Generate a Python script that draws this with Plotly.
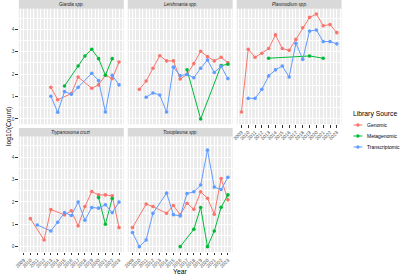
import plotly.graph_objects as go

years = list(range(2009, 2024))
year_labels = [str(y) for y in years]
N = None

# ---- data: log10(Count) per year 2009..2023 (None = no record) ----
giardia_genomic        = [N, N, N, N, 1.41, 0.86, N, 1.13, 1.87, N, 1.37, 1.52, 1.95, 1.80, 2.54]
giardia_metagenomic    = [N, N, N, N, N, N, 1.47, N, 2.36, 2.81, 3.11, 2.69, 1.95, 2.69, N]
giardia_transcriptomic = [N, N, N, N, 1.01, 0.30, 1.22, 1.10, 1.41, N, 2.04, 1.71, 0.31, 1.95, 1.52]

leish_genomic        = [N, 1.32, 1.69, 2.26, 2.82, 2.59, 2.59, 1.78, 1.99, 2.47, 3.02, 2.78, 2.59, 2.75, 2.51]
leish_metagenomic    = [N, N, N, N, N, N, N, N, 2.19, N, 0.0, N, N, 2.38, 2.44]
leish_transcriptomic = [N, N, 0.97, 1.16, 1.07, 0.31, 2.31, 1.93, 1.99, 1.84, 2.26, 2.63, 2.07, 2.35, 1.80]

plasmo_genomic        = [0.31, 3.11, 2.75, 2.93, 3.14, 3.75, 3.14, 3.06, 3.55, 4.07, 4.53, 4.68, 4.16, 4.21, 3.85]
plasmo_metagenomic    = [N, N, N, N, 2.71, N, N, N, N, N, 2.81, N, 2.71, N, N]
plasmo_transcriptomic = [N, 0.92, 0.92, 1.32, 1.92, 2.19, 2.36, 1.87, 3.38, 2.66, 3.92, 3.97, 3.45, 3.45, 3.35]

trypano_genomic        = [N, 1.25, N, 0.30, 1.66, N, 1.42, 1.60, 0.93, 1.79, 2.46, 2.31, 2.31, 2.27, 0.85]
trypano_metagenomic    = [N, N, N, N, N, N, N, N, N, N, N, 2.19, 1.00, 2.15, N]
trypano_transcriptomic = [N, N, 0.97, N, 0.70, 1.09, 1.52, 1.39, 1.99, 1.18, 1.75, 1.72, 1.87, 1.52, 1.99]

toxo_genomic        = [0.85, N, 1.90, 1.79, N, 1.49, 1.84, 1.42, 1.94, 1.67, 2.45, 2.16, 1.45, 3.04, 2.09]
toxo_metagenomic    = [N, N, N, N, N, N, N, 0.0, N, 0.78, 1.75, 0.0, 0.70, 1.76, 2.31]
toxo_transcriptomic = [0.63, 0.0, 0.30, 1.49, N, 2.39, 1.43, 1.37, 2.37, 2.45, 2.75, 4.31, 2.66, 2.55, 3.10]

panel_titles = ["Giardia spp.", "Leishmania spp.", "Plasmodium spp.", "Trypanosoma cruzi", "Toxoplasma spp."]
series_names = ["Genomic", "Metagenomic", "Transcriptomic"]
series_colors = ["#F8766D", "#00BA38", "#619CFF"]
legend_title = "Library Source"

panel_data = [
    [giardia_genomic, giardia_metagenomic, giardia_transcriptomic],
    [leish_genomic, leish_metagenomic, leish_transcriptomic],
    [plasmo_genomic, plasmo_metagenomic, plasmo_transcriptomic],
    [trypano_genomic, trypano_metagenomic, trypano_transcriptomic],
    [toxo_genomic, toxo_metagenomic, toxo_transcriptomic],
]

W, H = 400, 278
col_px = [(15, 121), (125, 231), (235, 341)]
row_px = [(8.8, 124.2), (136.6, 251.9)]
strip_px = [(0, 8.8), (128.0, 136.6)]

def px_x(p): return p / W
def px_y(p): return 1 - p / H

FONT = "Liberation Sans, Arial, sans-serif"
fig = go.Figure()
layout = dict(
    width=W, height=H, autosize=False,
    margin=dict(l=0, r=0, t=0, b=0),
    paper_bgcolor="white", plot_bgcolor="#EBEBEB",
    font=dict(family=FONT, color="#4D4D4D"),
    shapes=[], annotations=[], showlegend=False,
)

xr = [2008.3, 2023.7]
yr = [-0.234, 4.914]

for i, (title, series) in enumerate(zip(panel_titles, panel_data)):
    row, col = divmod(i, 3)
    sfx = "" if i == 0 else str(i + 1)
    xa, ya = "x" + sfx, "y" + sfx
    for name, vals, color in zip(series_names, series, series_colors):
        fig.add_trace(go.Scatter(
            x=years, y=vals, mode="lines+markers", connectgaps=True,
            name=name, legendgroup=name, showlegend=False,
            line=dict(color=color, width=1),
            marker=dict(color=color, size=3.6),
            xaxis=xa, yaxis=ya,
        ))
    show_x = (row == 1) or (i == 2)
    show_y = (col == 0)
    x0, x1 = col_px[col]
    y0, y1 = row_px[row]
    layout["xaxis" + sfx] = dict(
        domain=[px_x(x0), px_x(x1)], anchor=ya, range=xr,
        tickmode="array", tickvals=years, ticktext=year_labels,
        showticklabels=show_x, ticks="outside" if show_x else "",
        ticklen=2.5, tickwidth=0.5, tickcolor="#333333", tickangle=-45,
        tickfont=dict(size=4.9, color="#4D4D4D"),
        showgrid=True, gridcolor="white", gridwidth=0.7,
        minor=dict(dtick=0.5, tick0=2008.5, showgrid=True, gridcolor="white", gridwidth=0.35, ticks=""),
        zeroline=False, showline=False, fixedrange=True,
    )
    layout["yaxis" + sfx] = dict(
        domain=[px_y(y1), px_y(y0)], anchor=xa, range=yr,
        tickmode="array", tickvals=[0, 1, 2, 3, 4],
        showticklabels=show_y, ticks="outside" if show_y else "",
        ticklen=2.5, tickwidth=0.5, tickcolor="#333333",
        tickfont=dict(size=4.8, color="#4D4D4D"),
        showgrid=True, gridcolor="white", gridwidth=0.7,
        minor=dict(dtick=0.5, tick0=0.5, showgrid=True, gridcolor="white", gridwidth=0.35, ticks=""),
        zeroline=False, showline=False, fixedrange=True,
    )
    s0, s1 = strip_px[row]
    layout["shapes"].append(dict(
        type="rect", xref="paper", yref="paper",
        x0=px_x(x0), x1=px_x(x1), y0=px_y(s1), y1=px_y(s0),
        fillcolor="#D9D9D9", line=dict(width=0), layer="below",
    ))
    layout["annotations"].append(dict(
        text="<i>" + title + "</i>", xref="paper", yref="paper",
        x=px_x((x0 + x1) / 2), y=px_y((s0 + s1) / 2),
        xanchor="center", yanchor="middle", showarrow=False,
        font=dict(size=4.6, color="#1A1A1A", family=FONT),
    ))

# axis titles
layout["annotations"].append(dict(
    text="Year", xref="paper", yref="paper", x=px_x(178), y=px_y(271),
    xanchor="center", yanchor="middle", showarrow=False,
    font=dict(size=6.8, color="black", family=FONT),
))
layout["annotations"].append(dict(
    text="log10(Count)", xref="paper", yref="paper", x=px_x(5), y=px_y(126),
    xanchor="center", yanchor="middle", showarrow=False, textangle=-90,
    font=dict(size=6.8, color="black", family=FONT),
))

# legend (ggplot-style compact key)
layout["annotations"].append(dict(
    text=legend_title, xref="paper", yref="paper", x=px_x(350), y=px_y(114),
    xanchor="left", yanchor="middle", showarrow=False,
    font=dict(size=6.8, color="black", family=FONT),
))
for k, (name, color) in enumerate(zip(series_names, series_colors)):
    ky = 125 + 11 * k
    layout["shapes"].append(dict(
        type="line", xref="paper", yref="paper",
        x0=px_x(353), x1=px_x(362), y0=px_y(ky), y1=px_y(ky),
        line=dict(color=color, width=1),
    ))
    layout["shapes"].append(dict(
        type="circle", xref="paper", yref="paper",
        x0=px_x(355.8), x1=px_x(359.2), y0=px_y(ky + 1.7), y1=px_y(ky - 1.7),
        fillcolor=color, line=dict(width=0),
    ))
    layout["annotations"].append(dict(
        text=name, xref="paper", yref="paper", x=px_x(364.5), y=px_y(ky),
        xanchor="left", yanchor="middle", showarrow=False,
        font=dict(size=5.0, color="black", family=FONT),
    ))

fig.update_layout(**layout)
fig.write_html(
    "out.html",
    config={"displayModeBar": False},
    post_script="document.body.style.margin='0';document.body.style.overflow='hidden';",
)
